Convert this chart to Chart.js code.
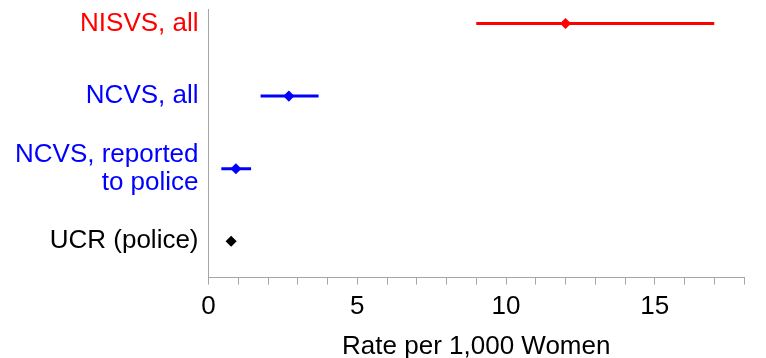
<!DOCTYPE html>
<html>
<head>
<meta charset="utf-8">
<script src="https://cdn.jsdelivr.net/npm/chart.js@4"></script>
<style>
  html, body { margin: 0; padding: 0; background: #fff; }
  #wrap { width: 766px; height: 358px; }
</style>
</head>
<body>
<div id="wrap"><canvas id="chart" width="766" height="358"></canvas></div>
<script>
// rate per 1,000 women, with interval ends (UCR has no interval)
const sources = ['NISVS, all', 'NCVS, all', 'NCVS, reported to police', 'UCR (police)']
const sourceLines = [['NISVS, all'], ['NCVS, all'], ['NCVS, reported', 'to police'], ['UCR (police)']]
const rates = [12.0, 2.7, 0.92, 0.76]
const lower = [9.0, 1.75, 0.43, null]
const upper = [17.0, 3.7, 1.43, null]
const colors = ['#ff0000', '#0000ff', '#0000ff', '#000000']
const xTicks = [0, 5, 10, 15]

// y position: first source at the top
const rowOf = (i) => sources.length - i

const barSets = sources
  .map((s, i) => ({ s, i }))
  .filter(({ i }) => lower[i] !== null)
  .map(({ s, i }) => ({
    label: s + ' range',
    data: [
      { x: lower[i], y: rowOf(i) },
      { x: upper[i], y: rowOf(i) },
    ],
    showLine: true,
    borderColor: colors[i],
    borderWidth: 3,
    pointRadius: 0,
    order: 2,
  }))

const pointSet = {
  label: 'Rate',
  data: rates.map((r, i) => ({ x: r, y: rowOf(i) })),
  pointStyle: 'rectRot',
  pointRadius: 4.5,
  borderWidth: 1.5,
  pointBackgroundColor: colors,
  pointBorderColor: colors,
  showLine: false,
  order: 0,
}

const font = 'Liberation Sans, Arial'

new Chart(document.getElementById('chart').getContext('2d'), {
  type: 'scatter',
  data: { datasets: [...barSets, pointSet] },
  options: {
    responsive: false,
    animation: false,
    layout: { padding: { left: 5, right: 22, top: 9, bottom: 0 } },
    plugins: { legend: { display: false }, tooltip: { enabled: false } },
    scales: {
      x: {
        type: 'linear',
        min: 0,
        max: 18,
        ticks: {
          stepSize: 1,
          autoSkip: false,
          maxRotation: 0,
          padding: 6.4,
          color: '#000',
          font: { family: font, size: 26 },
          callback: (v) => (xTicks.includes(v) ? String(v) : ''),
        },
        grid: {
          drawOnChartArea: false,
          tickLength: 7,
          color: '#a6a6a6',
          lineWidth: 1,
        },
        border: { color: '#a6a6a6', width: 1 },
        title: {
          display: true,
          text: 'Rate per 1,000 Women',
          color: '#000',
          font: { family: font, size: 26, lineHeight: 0.846 },
          padding: { top: 7.4, bottom: 0 },
        },
      },
      y: {
        type: 'linear',
        min: 0.5,
        max: 4.2,
        afterBuildTicks: (axis) => {
          axis.ticks = sources.map((s, i) => ({ value: rowOf(i) }))
        },
        afterFit: (axis) => {
          axis.paddingTop = 0
          axis.paddingBottom = 0
        },
        ticks: {
          autoSkip: false,
          padding: 10,
          font: { family: font, size: 26, lineHeight: 1.05 },
          color: (ctx) => colors[sources.length - ctx.tick.value],
          callback: (v) => {
            const lines = sourceLines[sources.length - v]
            return lines.length > 1 ? lines : lines[0]
          },
        },
        grid: { display: false, drawTicks: false },
        border: { color: '#a6a6a6', width: 1 },
      },
    },
  },
})
</script>
</body>
</html>
